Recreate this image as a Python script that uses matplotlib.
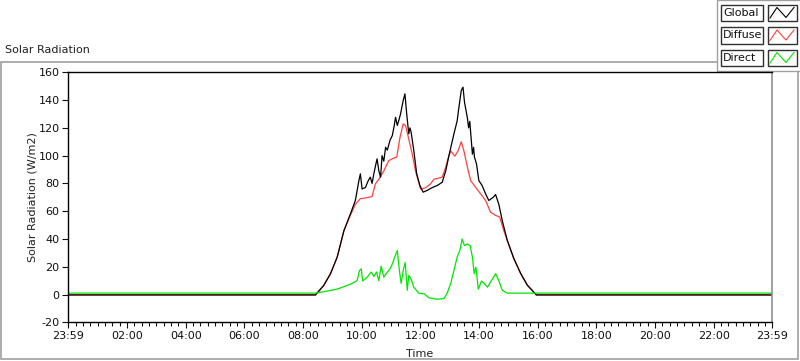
import numpy as np
import matplotlib
matplotlib.use("Agg")
import matplotlib.pyplot as plt
from matplotlib.patches import Rectangle
from matplotlib.ticker import MultipleLocator

# time axis runs from 23:59 (day before) to 23:59, in hours
t_start = -1 / 60
t_end = 24 - 1 / 60

# Global radiation (W/m2)
global_t = [t_start, 8.42, 8.70, 8.93, 9.16, 9.39, 9.61, 9.78, 9.90, 9.95, 10.01, 10.12,
            10.22, 10.29, 10.35, 10.41, 10.47, 10.52, 10.58, 10.64, 10.69, 10.75, 10.81,
            10.87, 10.96, 11.04, 11.10, 11.15, 11.21, 11.27, 11.32, 11.41, 11.47, 11.53,
            11.60, 11.64, 11.68, 11.77, 11.87, 11.98, 12.09, 12.23, 12.40, 12.57, 12.74,
            12.86, 12.97, 13.14, 13.25, 13.31, 13.39, 13.45, 13.50, 13.60, 13.64, 13.68,
            13.77, 13.81, 13.84, 13.91, 13.99, 14.10, 14.22, 14.33, 14.48, 14.56, 14.67,
            14.79, 14.96, 15.18, 15.41, 15.64, 15.95, t_end]
global_v = [-0.3, -0.3, 6.5, 14.9, 26.9, 46, 58, 67.7, 82, 86.9, 76, 77,
            82, 84.5, 80, 87, 93, 97.7, 89, 84.5, 100, 96, 106,
            104, 111, 114.5, 121, 127.6, 121.7, 126, 130, 139.7, 144.5, 130,
            115.7, 120, 117, 104, 87, 78.5, 73.7, 75, 77, 78.5, 80.8,
            89, 100, 115.7, 125, 134.8, 146.9, 149.3, 138.5, 127, 120, 124.7,
            101, 106, 98.9, 94, 82, 78.5, 72.5, 67.7, 70, 72, 65,
            53, 38.9, 26, 15.4, 6.8, -0.3, -0.3]

# Diffuse radiation
diffuse_t = [t_start, 8.42, 8.70, 8.93, 9.16, 9.39, 9.61, 9.78, 9.95, 10.12, 10.35,
             10.46, 10.58, 10.75, 10.92, 11.04, 11.19, 11.30, 11.41, 11.49, 11.60,
             11.72, 11.83, 12.00, 12.17, 12.34, 12.46, 12.74, 12.86, 12.94, 13.03,
             13.17, 13.28, 13.39, 13.48, 13.60, 13.71, 13.88, 14.05, 14.22, 14.39,
             14.56, 14.70, 14.84, 14.96, 15.18, 15.41, 15.64, 15.95, t_end]
diffuse_v = [-0.3, -0.3, 6.5, 14.9, 26.9, 46, 57, 65, 69, 69.5, 70.5,
             79.6, 83, 89, 96.5, 97.7, 99, 113, 122.9, 121.7, 112,
             101, 89, 76, 76.8, 79.6, 83, 84.5, 91.6, 98, 103.4,
             99.6, 103.4, 110, 103.4, 91.6, 82, 77.2, 72.5, 67.7, 59.3,
             57, 55.8, 46, 38.9, 26, 15.4, 6.8, -0.3, -0.3]

# Direct radiation
direct_t = [t_start, 8.42, 8.70, 9.16, 9.50, 9.67, 9.84, 9.92, 9.98, 10.03, 10.18,
            10.32, 10.41, 10.50, 10.58, 10.66, 10.75, 10.87, 10.96, 11.04, 11.12,
            11.21, 11.28, 11.34, 11.41, 11.48, 11.55, 11.60, 11.68, 11.77, 11.94,
            12.12, 12.29, 12.57, 12.80, 12.91, 13.03, 13.14, 13.25, 13.34, 13.42,
            13.50, 13.60, 13.69, 13.77, 13.83, 13.89, 13.97, 14.08, 14.17, 14.28,
            14.41, 14.56, 14.67, 14.79, 14.96, t_end]
direct_v = [1, 1, 2, 3.9, 6.5, 8, 10, 17.3, 18.5, 9.7, 12.5,
            16.2, 13, 16.2, 10, 20.4, 12.5, 16.2, 18.5, 22, 27,
            31.6, 17.3, 8, 17.3, 23, 3, 13.7, 11.3, 5.3, 1,
            0.5, -2.4, -3.4, -2.9, 1, 8, 17.3, 27, 31.6, 40,
            35.2, 36.4, 35.2, 27, 15, 19.7, 3.9, 9.7, 8, 5.3,
            9.7, 15, 10, 3, 1, 1]

tick_pos = [t_start, 2, 4, 6, 8, 10, 12, 14, 16, 18, 20, 22, t_end]
tick_lbl = ["23:59", "02:00", "04:00", "06:00", "08:00", "10:00", "12:00",
            "14:00", "16:00", "18:00", "20:00", "22:00", "23:59"]

series_names = ["Global", "Diffuse", "Direct"]
series_colors = ["#000000", "#ff4040", "#00e600"]

plt.rcParams['font.family'] = ['DejaVu Sans']
plt.rcParams['axes.unicode_minus'] = False
W, H = 800, 361
fig = plt.figure(figsize=(W / 100, H / 100), dpi=100)

# decoration layer in pixel coordinates (frame, title, legend)
deco = fig.add_axes([0, 0, 1, 1])
deco.set_xlim(0, W)
deco.set_ylim(H, 0)
deco.axis('off')
deco.add_patch(Rectangle((1, 62), 797, 297, fill=False, edgecolor='#a0a0a0', lw=1.2))
deco.text(5, 50, "Solar Radiation", fontsize=8, va='center', ha='left', color='#202020')
deco.add_patch(Rectangle((717, 0), 90, 70.5, facecolor='white', edgecolor='#a0a0a0', lw=1.0))
rows_y = [4.5, 27, 49.5]
for name, col, y0 in zip(series_names, series_colors, rows_y):
    deco.add_patch(Rectangle((720.5, y0), 42, 16.5, facecolor='white', edgecolor='#303030', lw=1.0))
    deco.text(723, y0 + 8.5, name, fontsize=8, va='center', ha='left', color='#101010')
    deco.add_patch(Rectangle((767.5, y0), 29, 16.5, facecolor='white', edgecolor='#303030', lw=1.0))
    deco.plot([770, 777, 786, 794], [y0 + 13.5, y0 + 3, y0 + 13, y0 + 3], color=col, lw=0.8)

# main plot
ax = fig.add_axes([68 / W, 38.7 / H, 704 / W, 250 / H])
ax.plot(diffuse_t, diffuse_v, color=series_colors[1], lw=0.9)
ax.plot(global_t, global_v, color=series_colors[0], lw=0.9)
ax.plot(direct_t, direct_v, color=series_colors[2], lw=0.9)

ax.set_xlim(t_start, t_end)
ax.set_ylim(-20, 160)
ax.set_yticks(np.arange(-20, 161, 20))
ax.set_xticks(tick_pos)
ax.set_xticklabels(tick_lbl)
ax.xaxis.set_minor_locator(MultipleLocator(0.25))
ax.tick_params(axis='both', which='major', labelsize=8, direction='out', length=4, width=0.8,
               colors='#101010', pad=2)
ax.tick_params(axis='x', which='minor', direction='out', length=3, width=0.8, color='#101010')
ax.set_ylabel("Solar Radiation (W/m2)", fontsize=8, color='#202020', labelpad=0.5)
ax.set_xlabel("Time", fontsize=8, color='#202020', labelpad=6)
for s in ['left', 'top', 'bottom']:
    ax.spines[s].set_color('#000000')
    ax.spines[s].set_linewidth(1.0)
ax.spines['right'].set_color('#909090')
ax.spines['right'].set_linewidth(1.2)

fig.savefig("out.png", dpi=100)
